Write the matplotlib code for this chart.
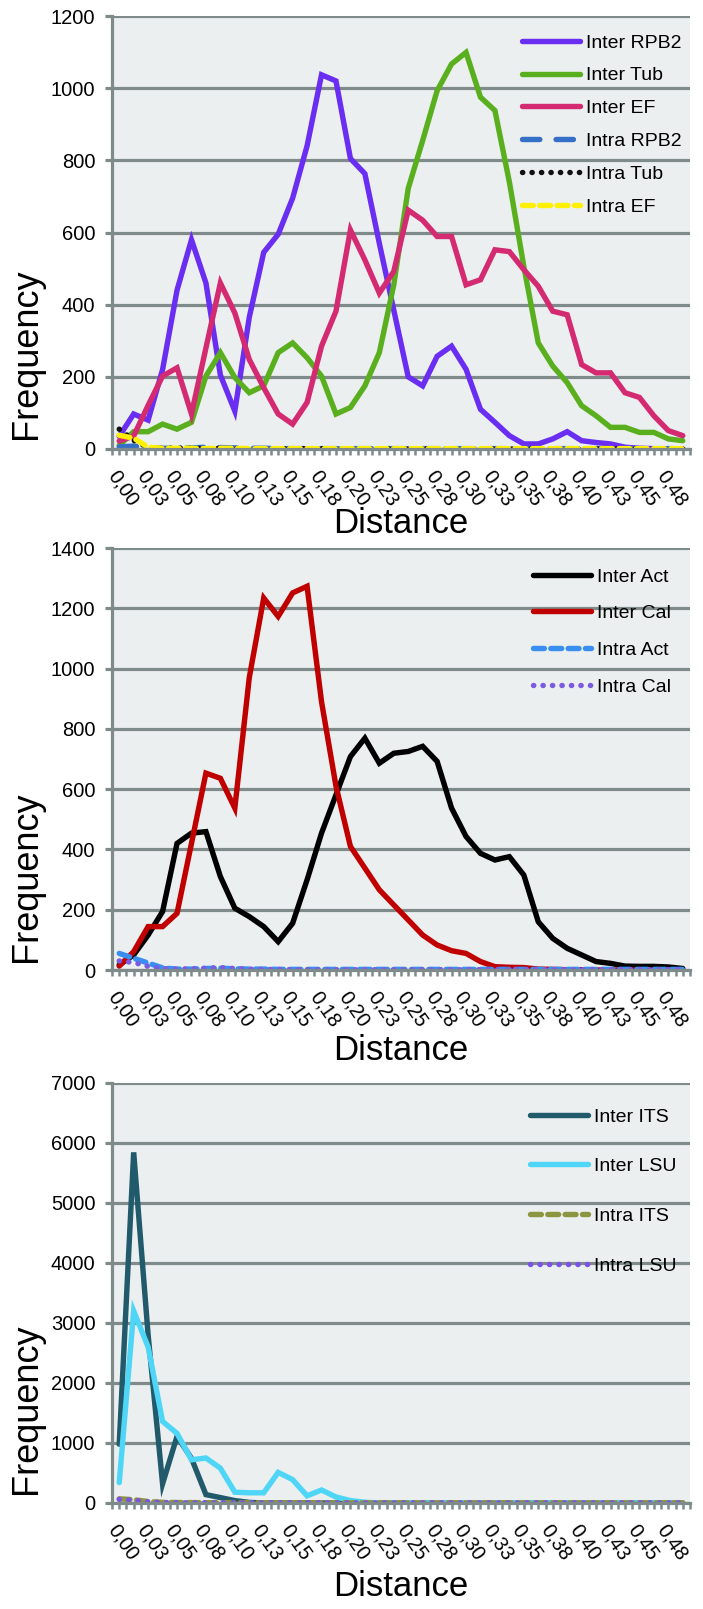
import matplotlib
matplotlib.use('Agg')
import matplotlib.pyplot as plt
from matplotlib import font_manager

# x categories: 40 distance classes, every second one labelled
x_labels = ['0,00', '0,03', '0,05', '0,08', '0,10', '0,13', '0,15', '0,18', '0,20', '0,23',
            '0,25', '0,28', '0,30', '0,33', '0,35', '0,38', '0,40', '0,43', '0,45', '0,48']

# panel 1
rpb2_inter = [35, 97, 80, 220, 440, 580, 460, 205, 105, 365, 545, 595, 695, 840, 1037, 1020, 805, 763, 570, 385,
              200, 175, 257, 285, 221, 110, 74, 37, 14, 14, 28, 48, 23, 18, 14, 5, 2, 1, 0, 0]
tub_inter = [10, 48, 48, 69, 55, 74, 202, 267, 198, 156, 175, 267, 294, 253, 202, 97, 115, 175, 267, 455,
             722, 855, 993, 1067, 1099, 975, 938, 740, 506, 294, 230, 184, 120, 92, 60, 60, 46, 46, 28, 23]
ef_inter = [22, 36, 121, 202, 225, 97, 280, 460, 377, 248, 170, 97, 69, 129, 285, 382, 607, 524, 432, 492,
            662, 634, 589, 589, 455, 469, 552, 547, 497, 451, 382, 372, 234, 211, 211, 156, 143, 92, 51, 37]
rpb2_intra = [6, 8, 4, 2, 2, 3, 5, 4, 3, 2, 2, 1, 1, 1, 1, 1, 1, 1, 1, 1,
              1, 1, 1, 1, 1, 1, 1, 1, 1, 1, 1, 1, 1, 1, 1, 1, 1, 1, 1, 1]
tub_intra = [55, 24, 4, 2, 3, 2, 1, 2, 1, 1, 1, 1, 1, 1, 1, 0, 0, 0, 0, 0,
             0, 0, 0, 0, 0, 0, 0, 0, 0, 0, 0, 0, 0, 0, 0, 0, 0, 0, 0, 0]
ef_intra = [38, 30, 5, 2, 2, 2, 1, 2, 2, 1, 1, 1, 1, 1, 1, 1, 1, 1, 1, 1,
            1, 1, 1, 1, 1, 1, 1, 1, 1, 1, 1, 1, 1, 1, 1, 1, 1, 1, 1, 1]

# panel 2
act_inter = [17, 50, 116, 194, 420, 454, 459, 310, 205, 177, 144, 94, 155, 299, 454, 581, 708, 769, 686, 719,
             725, 742, 692, 537, 443, 387, 365, 376, 315, 160, 105, 72, 50, 28, 22, 13, 12, 12, 10, 5]
cal_inter = [13, 61, 144, 144, 188, 420, 653, 636, 537, 970, 1234, 1173, 1251, 1273, 890, 610, 410, 338, 266, 216,
             166, 116, 83, 64, 55, 28, 11, 9, 8, 3, 2, 1, 1, 0, 0, 0, 0, 0, 0, 0]
act_intra = [55, 39, 23, 7, 3, 3, 5, 6, 4, 3, 3, 2, 2, 2, 2, 2, 2, 2, 2, 2,
             2, 2, 2, 2, 2, 2, 2, 2, 2, 2, 2, 2, 2, 2, 2, 2, 2, 2, 2, 2]
cal_intra = [30, 25, 12, 5, 3, 4, 6, 8, 5, 3, 2, 2, 1, 1, 1, 1, 1, 1, 1, 1,
             1, 1, 1, 1, 1, 1, 1, 1, 1, 1, 1, 1, 1, 1, 1, 1, 1, 1, 1, 1]

# panel 3
its_inter = [980, 5844, 2800, 320, 1110, 744, 140, 90, 40, 10, 0, 0, 0, 0, 0, 0, 0, 0, 0, 0,
             0, 0, 0, 0, 0, 0, 0, 0, 0, 0, 0, 0, 0, 0, 0, 0, 0, 0, 0, 0]
lsu_inter = [340, 3200, 2600, 1360, 1160, 720, 750, 580, 180, 170, 170, 510, 390, 120, 217, 100, 41, 12, 0, 0,
             0, 0, 0, 0, 0, 0, 0, 0, 0, 0, 0, 0, 0, 0, 0, 0, 0, 0, 0, 0]
its_intra = [70, 55, 25, 10, 8, 6, 5, 5, 4, 3, 3, 3, 3, 3, 3, 3, 3, 3, 3, 3,
             3, 3, 3, 3, 3, 3, 3, 3, 3, 3, 3, 3, 3, 3, 3, 3, 3, 3, 3, 3]
lsu_intra = [60, 45, 20, 8, 5, 4, 4, 3, 3, 2, 2, 2, 2, 2, 2, 2, 2, 2, 2, 2,
             2, 2, 2, 2, 2, 2, 2, 2, 2, 2, 2, 2, 2, 2, 2, 2, 2, 2, 2, 2]

# pick a narrow font if there is one
names = {f.name for f in font_manager.fontManager.ttflist}
if 'Liberation Sans Narrow' in names:
    FONT = 'Liberation Sans Narrow'
elif 'DejaVu Sans Condensed' in names:
    FONT = 'DejaVu Sans Condensed'
else:
    FONT = 'Liberation Sans'
plt.rcParams['font.family'] = [FONT, 'DejaVu Sans']

GRID = '#7F8A8A'
BG = '#ECEFF0'
LW = 3.9

styles = {
    'solid': dict(linestyle='-', solid_capstyle='round', solid_joinstyle='miter'),
    'longdash': dict(linestyle=(0, (3.2, 3.0)), dash_capstyle='round'),
    'dash': dict(linestyle=(0, (2.0, 1.2)), dash_capstyle='round'),
    'dot': dict(linestyle=(0, (0.05, 1.7)), dash_capstyle='round'),
}

panels = [
    dict(rect=(16, 449), ymax=1200, ystep=200, leg=(522, 34, 0.78),
         ylab_y=0.22, xlab_y=-0.172,
         series=[('Inter RPB2', rpb2_inter, '#6A2EF2', 'solid'),
                 ('Inter Tub', tub_inter, '#5AAF1F', 'solid'),
                 ('Inter EF', ef_inter, '#D42A72', 'solid'),
                 ('Intra RPB2', rpb2_intra, '#3570C8', 'longdash'),
                 ('Intra Tub', tub_intra, '#111111', 'dot'),
                 ('Intra EF', ef_intra, '#FFF000', 'dash')]),
    dict(rect=(548, 970), ymax=1400, ystep=200, leg=(533, 568, 0.98),
         ylab_y=0.22, xlab_y=-0.19,
         series=[('Inter Act', act_inter, '#000000', 'solid'),
                 ('Inter Cal', cal_inter, '#C00000', 'solid'),
                 ('Intra Act', act_intra, '#3A8EF0', 'dash'),
                 ('Intra Cal', cal_intra, '#7B5CE0', 'dot')]),
    dict(rect=(1083, 1503), ymax=7000, ystep=1000, leg=(530, 1108, 1.65),
         ylab_y=0.225, xlab_y=-0.2,
         series=[('Inter ITS', its_inter, '#215A6B', 'solid'),
                 ('Inter LSU', lsu_inter, '#4FD6F7', 'solid'),
                 ('Intra ITS', its_intra, '#8C9640', 'dash'),
                 ('Intra LSU', lsu_intra, '#7B52E8', 'dot')]),
]

W, H = 703, 1609
fig = plt.figure(figsize=(W / 100, H / 100), dpi=100)
left, right = 112, 690
xs = list(range(len(rpb2_inter)))

for p in panels:
    top, bottom = p['rect']
    ax = fig.add_axes([left / W, 1 - bottom / H, (right - left) / W, (bottom - top) / H])
    ax.set_facecolor(BG)
    for label, vals, color, st in p['series']:
        ax.plot(xs, vals, color=color, lw=LW, label=label, **styles[st])

    ax.set_xlim(-0.5, len(xs) - 0.5)
    ax.set_ylim(0, p['ymax'])
    yt = list(range(0, p['ymax'] + 1, p['ystep']))
    ax.set_yticks(yt)
    ax.set_yticklabels([str(v) for v in yt])
    ax.yaxis.grid(True, color=GRID, lw=2.3)
    ax.set_axisbelow(True)

    ax.set_xticks(xs)
    ax.set_xticklabels([x_labels[i // 2] if i % 2 == 0 else '' for i in xs],
                       rotation=-55, ha='left', va='top', rotation_mode='anchor')
    ax.set_xticks([i + 0.5 for i in range(-1, len(xs))], minor=True)

    for s in ['top', 'right']:
        ax.spines[s].set_visible(False)
    for s in ['left', 'bottom']:
        ax.spines[s].set_color(GRID)
        ax.spines[s].set_linewidth(2.3)
    ax.tick_params(axis='y', length=5, width=2.3, color=GRID, labelsize=14.5, pad=7)
    ax.tick_params(axis='x', which='both', length=4, width=1.8, color=GRID, labelsize=14.5, pad=9)

    ax.set_ylabel('Frequency', fontsize=26)
    ax.yaxis.set_label_coords(-0.148, p['ylab_y'])
    ax.yaxis.label.set_va('center')
    ax.set_xlabel('Distance', fontsize=25)
    ax.xaxis.set_label_coords(0.5, p['xlab_y'])
    ax.xaxis.label.set_va('center')

    lx, ly, sp = p['leg']
    ax.legend(loc='upper left',
              bbox_to_anchor=((lx - left) / (right - left), (bottom - ly) / (bottom - top)),
              frameon=False, fontsize=14, handlelength=3.0, handletextpad=0.3,
              labelspacing=sp, borderpad=0, borderaxespad=0)

fig.savefig('out.png', dpi=100, facecolor='white')
